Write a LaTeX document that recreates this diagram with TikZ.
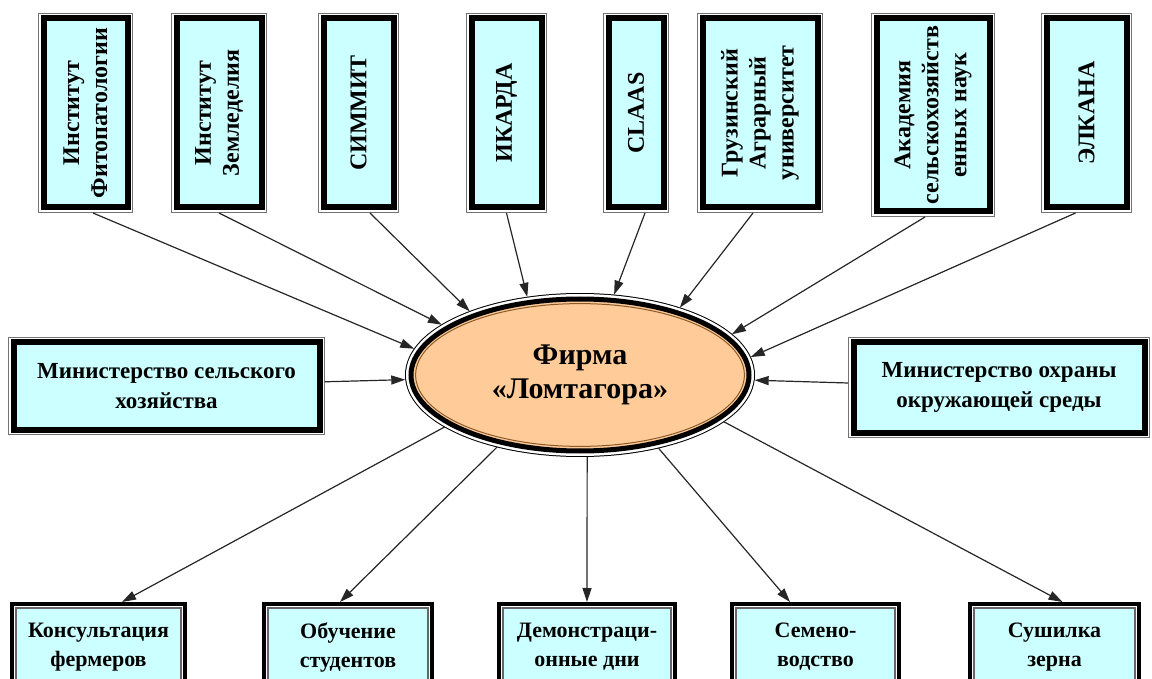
\documentclass[tikz,border=0pt]{standalone}
\usepackage{fontspec}
\setmainfont{Liberation Serif}
\usetikzlibrary{shapes.geometric,arrows.meta}

\definecolor{boxcyan}{HTML}{CCFFFF}
\definecolor{firmpeach}{HTML}{FFCC99}
\definecolor{firmbrown}{HTML}{8A5A2B}

\tikzset{
  topbox/.style={rectangle, fill=boxcyan, draw=black, line width=3pt,
    preaction={draw=black!55, line width=5.5pt},
    preaction={draw=white, line width=4.5pt},
    inner sep=1pt, outer sep=2.75pt, align=center,
    font=\fontsize{12}{14}\selectfont\bfseries},
  resbox/.style={rectangle, fill=boxcyan, draw=black!60, line width=0.6pt,
    preaction={draw=black, line width=6pt},
    preaction={draw=white, line width=2.2pt},
    inner sep=1pt, outer sep=3pt, align=center,
    font=\fontsize{11}{14.5}\selectfont\bfseries},
  firmnode/.style={ellipse, fill=firmpeach, draw=black, line width=2.5pt,
    preaction={draw=black, line width=6pt},
    preaction={draw=white, line width=5pt},
    minimum width=169pt, minimum height=76pt, inner sep=0pt, outer sep=3pt,
    align=center, font=\fontsize{15}{17}\selectfont\bfseries},
  link/.style={draw=black!85, line width=0.6pt, -{Triangle[length=7pt,width=4.5pt]}}
}

\begin{document}
\begin{tikzpicture}[x=0.5pt, y=-0.5pt]
  \useasboundingbox (0,0) rectangle (1152,679);
  \clip (0,0) rectangle (1152,679);

  % central firm
  \node[firmnode] (firm) at (580,375) {Фирма\\«Ломтагора»};
  \draw[firmbrown, line width=0.5pt] (firm.center) ellipse [x radius=82.2pt, y radius=35.7pt];

  % partners on top (rotated text)
  \node[topbox, rotate=90, minimum width=94.5pt, minimum height=42pt] (fito) at (85.5,113) {Институт\\Фитопатологии};
  \node[topbox, rotate=90, minimum width=94.5pt, minimum height=42.5pt] (zeml) at (219,113) {Институт\\Земледелия};
  \node[topbox, rotate=90, minimum width=94.5pt, minimum height=35pt] (cimmyt) at (358.5,113) {СИММИТ};
  \node[topbox, rotate=90, minimum width=94.5pt, minimum height=35pt] (icarda) at (506.5,113) {ИКАРДА};
  \node[topbox, rotate=90, minimum width=94.5pt, minimum height=27.5pt] (claas) at (636,113) {CLAAS};
  \node[topbox, rotate=90, minimum width=94.5pt, minimum height=57.5pt] (gau) at (760,113) {Грузинский\\Аграрный\\университет};
  \node[topbox, rotate=90, minimum width=96.5pt, minimum height=56.5pt] (acad) at (933,115) {Академия\\сельскохозяйств\\енных наук};
  \node[topbox, rotate=90, minimum width=94.5pt, minimum height=40pt] (elkana) at (1086.5,113) {ЭЛКАНА};

  % ministries
  \node[topbox, minimum width=153pt, minimum height=43.5pt, font=\fontsize{11.5}{15}\selectfont\bfseries] (agro) at (166.5,386) {Министерство сельского\\хозяйства};
  \node[topbox, minimum width=145.5pt, minimum height=45pt, font=\fontsize{11.5}{15}\selectfont\bfseries] (eco) at (999,387.5) {Министерство охраны\\окружающей среды};

  % activities below
  \node[resbox, minimum width=82.5pt, minimum height=39pt] (cons) at (98.5,647) {Консультация\\фермеров};
  \node[resbox, minimum width=80pt, minimum height=39pt] (study) at (348,647) {Обучение\\студентов};
  \node[resbox, minimum width=84pt, minimum height=39pt] (demo) at (587,647) {Демонстраци-\\онные дни};
  \node[resbox, minimum width=79.5pt, minimum height=39pt] (seed) at (815.5,647) {Семено-\\водство};
  \node[resbox, minimum width=80.5pt, minimum height=39pt] (dryer) at (1054.5,647) {Сушилка\\зерна};

  % incoming links
  \draw[link] ([xshift=3.75pt]fito.west) -- (firm.171.6);
  \draw[link] (zeml.west) -- (firm.160.7);
  \draw[link] ([xshift=5.75pt]cimmyt.west) -- (firm.150);
  \draw[link] (icarda.west) -- (firm.124);
  \draw[link] ([xshift=4.5pt]claas.west) -- (firm.67.6);
  \draw[link] ([xshift=-3.5pt]gau.west) -- (firm.34.8);
  \draw[link] ([xshift=-4pt]acad.west) -- (firm.15.8);
  \draw[link] ([xshift=-5.5pt]elkana.west) -- (firm.6.8);
  \draw[link] (agro) -- (firm);
  \draw[link] (eco) -- (firm);

  % outgoing links
  \draw[link] (firm.201.9) -- ([xshift=11.75pt]cons.north);
  \draw[link] (firm.221) -- ([xshift=-4pt]study.north);
  \draw[link] (firm.275) -- (demo.north);
  \draw[link] (firm.317.7) -- ([xshift=-12.75pt]seed.north);
  \draw[link] (firm.342.6) -- ([xshift=4pt]dryer.north);
\end{tikzpicture}
\end{document}
